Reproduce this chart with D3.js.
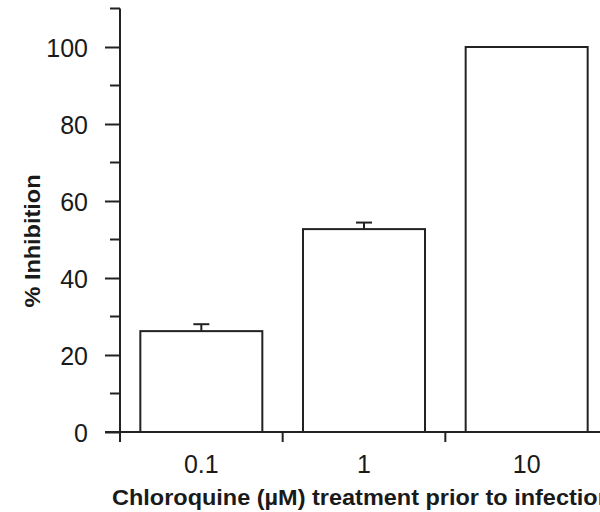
<!DOCTYPE html>
<html>
<head>
<meta charset="utf-8">
<script src="https://cdn.jsdelivr.net/npm/d3@7"></script>
<style>
  html, body { margin: 0; padding: 0; background: #fff; }
  svg { display: block; }
  text { font-family: "Liberation Sans", Arial, Helvetica, sans-serif; fill: #1a1a1a; }
</style>
</head>
<body>
<svg id="chart" width="600" height="512"></svg>
<script>
// Chloroquine concentrations (µM) and the resulting inhibition
const categories = ["0.1", "1", "10"];
const inhibition = [26.2, 52.7, 100];
const errors = [1.8, 1.7, 0];
const yTicks = [0, 20, 40, 60, 80, 100];
const yMinorTicks = [10, 30, 50, 70, 90, 110];

const svg = d3.select("#chart");
const ink = "#222";

const x0 = 120, x1 = 608, yBase = 432, yTop = 8.5;

const x = d3.scaleBand()
  .domain(categories)
  .range([x0, x1])
  .paddingInner(0.25)
  .paddingOuter(0.125);

const y = d3.scaleLinear()
  .domain([0, 110])
  .range([yBase, yTop]);

// Bars
svg.append("g")
  .selectAll("rect")
  .data(categories)
  .join("rect")
  .attr("x", d => x(d))
  .attr("y", (d, i) => y(inhibition[i]))
  .attr("width", x.bandwidth())
  .attr("height", (d, i) => y(0) - y(inhibition[i]))
  .attr("fill", "#fff")
  .attr("stroke", ink)
  .attr("stroke-width", 2);

// Error bars (upper half only)
const eb = svg.append("g").attr("stroke", ink).attr("stroke-width", 2);
categories.forEach((c, i) => {
  if (!errors[i]) return;
  const cx = x(c) + x.bandwidth() / 2;
  eb.append("line")
    .attr("x1", cx).attr("x2", cx)
    .attr("y1", y(inhibition[i])).attr("y2", y(inhibition[i] + errors[i]));
  eb.append("line")
    .attr("x1", cx - 8).attr("x2", cx + 8)
    .attr("y1", y(inhibition[i] + errors[i])).attr("y2", y(inhibition[i] + errors[i]));
});

// Y axis with major and minor ticks
const yAxis = svg.append("g").attr("transform", `translate(${x0},0)`);
yAxis.call(d3.axisLeft(y).tickValues(yTicks).tickSize(15).tickPadding(17).tickSizeOuter(0));
yAxis.call(g => g.select(".domain").remove());
yAxis.selectAll(".tick line").attr("stroke", ink).attr("stroke-width", 2);
yAxis.selectAll(".tick text")
  .attr("font-size", 25)
  .attr("font-family", "Liberation Sans, Arial, sans-serif")
  .attr("fill", "#1a1a1a")
  .attr("dy", "0.36em");
yAxis.append("g")
  .selectAll("line")
  .data(yMinorTicks)
  .join("line")
  .attr("x1", -10).attr("x2", 0)
  .attr("y1", d => y(d)).attr("y2", d => y(d))
  .attr("stroke", ink).attr("stroke-width", 2);
yAxis.append("line")
  .attr("x1", 0).attr("x2", 0)
  .attr("y1", y(0) + 10).attr("y2", yTop)
  .attr("stroke", ink).attr("stroke-width", 2);

// X axis: baseline plus separators between categories
const xg = svg.append("g");
xg.append("line")
  .attr("x1", x0 - 15).attr("x2", 600)
  .attr("y1", yBase).attr("y2", yBase)
  .attr("stroke", ink).attr("stroke-width", 2);
const step = x.step();
xg.selectAll("line.sep")
  .data(categories.slice(1))
  .join("line")
  .attr("class", "sep")
  .attr("x1", d => x(d) - step * 0.125).attr("x2", d => x(d) - step * 0.125)
  .attr("y1", yBase).attr("y2", yBase + 10)
  .attr("stroke", ink).attr("stroke-width", 2);
xg.selectAll("text")
  .data(categories)
  .join("text")
  .attr("x", d => x(d) + x.bandwidth() / 2)
  .attr("y", 473)
  .attr("text-anchor", "middle")
  .attr("font-size", 25)
  .text(d => d);

// Axis titles
svg.append("text")
  .attr("x", 112)
  .attr("y", 505)
  .attr("font-size", 22)
  .attr("font-weight", "bold")
  .attr("textLength", 500)
  .attr("lengthAdjust", "spacingAndGlyphs")
  .text("Chloroquine (µM) treatment prior to infection");

svg.append("text")
  .attr("transform", "translate(40,241) rotate(-90)")
  .attr("text-anchor", "middle")
  .attr("font-size", 22)
  .attr("font-weight", "bold")
  .attr("textLength", 133)
  .attr("lengthAdjust", "spacingAndGlyphs")
  .text("% Inhibition");
</script>
</body>
</html>
